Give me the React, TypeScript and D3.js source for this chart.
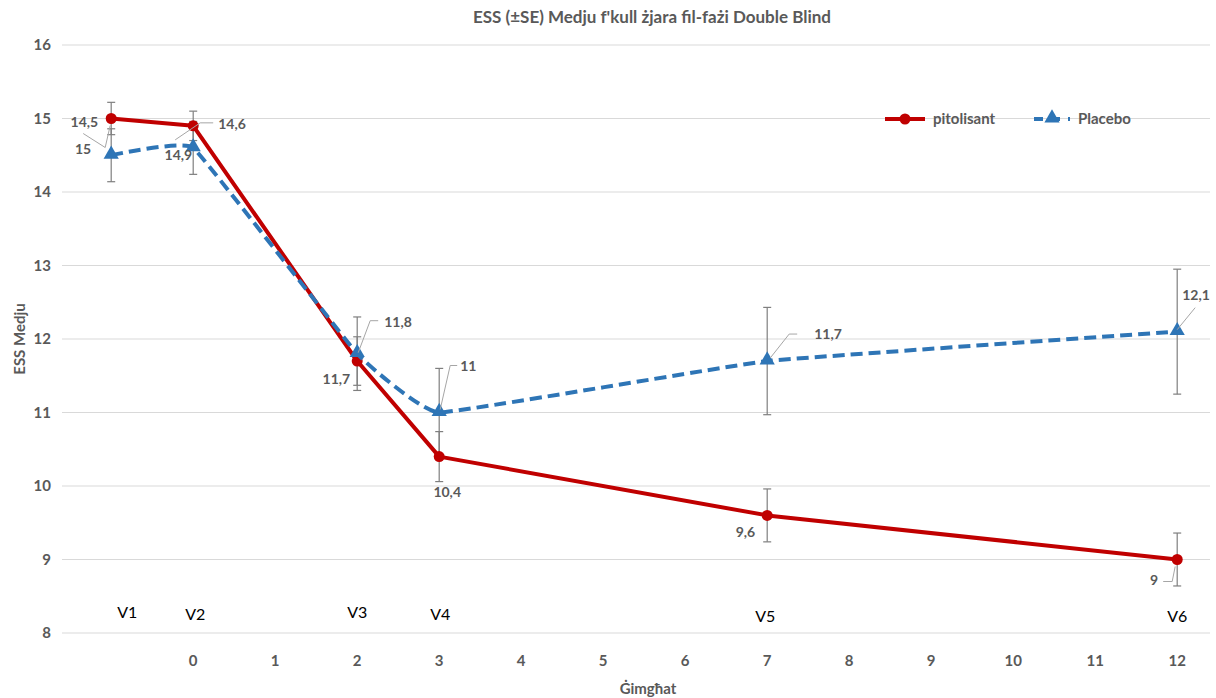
import React from "react";
import * as d3 from "d3";

const weeks = [-1, 0, 2, 3, 7, 12];
const visits = ["V1", "V2", "V3", "V4", "V5", "V6"];
const pitolisant = [15.0, 14.9, 11.7, 10.4, 9.6, 9.0];
const pitolisantSE = [0.22, 0.2, 0.33, 0.34, 0.36, 0.36];
const placebo = [14.5, 14.6, 11.8, 11.0, 11.7, 12.1];
const placeboSE = [0.36, 0.36, 0.5, 0.6, 0.73, 0.85];
const xTicks = [0, 1, 2, 3, 4, 5, 6, 7, 8, 9, 10, 11, 12];
const yTicks = [8, 9, 10, 11, 12, 13, 14, 15, 16];

// data label text, which series it hangs from, and its offset from the point
const dataLabels = [
  { i: 0, s: "red", text: "14,5", dx: -13, dy: 4, anchor: "end", leader: [[-28, 15], [-6, 29], [-1, 7]] },
  { i: 0, s: "blue", text: "15", dx: -20, dy: -6, anchor: "end", leader: null },
  { i: 1, s: "red", text: "14,6", dx: 25, dy: -2, anchor: "start", leader: [[20, -3], [7, -3], [-18, 14]] },
  { i: 1, s: "blue", text: "14,9", dx: -1, dy: 7, anchor: "end", leader: null },
  { i: 2, s: "blue", text: "11,8", dx: 27, dy: -32, anchor: "start", leader: [[21, -33], [13, -33], [1, -1]] },
  { i: 2, s: "red", text: "11,7", dx: -7, dy: 18, anchor: "end", leader: null },
  { i: 3, s: "blue", text: "11", dx: 21, dy: -46, anchor: "start", leader: [[18, -47], [11, -47], [1, -3]] },
  { i: 3, s: "red", text: "10,4", dx: 8, dy: 35, anchor: "middle", leader: null },
  { i: 4, s: "blue", text: "11,7", dx: 47, dy: -27, anchor: "start", leader: [[30, -27], [22, -27], [3, -3]] },
  { i: 4, s: "red", text: "9,6", dx: -12, dy: 17, anchor: "end", leader: null },
  { i: 5, s: "blue", text: "12,1", dx: 5, dy: -37, anchor: "start", leader: [[18, -24], [0, -2]] },
  { i: 5, s: "red", text: "9", dx: -19, dy: 21, anchor: "end", leader: [[-14, 22], [-5, 22], [-2, 7]] },
];
const visitDy = [-15, -13, -15, -13, -11, -11];
const visitDx = [16, 2, 0, 1, -2, 0];

const RED = "#C00000";
const BLUE = "#2E75B6";
const GRAY = "#595959";
const FONT = "Lato, 'Open Sans', sans-serif";

const App: React.FC = () => {
  const width = 1216;
  const height = 698;

  const x = d3.scaleLinear().domain([-1.6, 12.4]).range([62, 1210]);
  const y = d3.scaleLinear().domain([8, 16]).range([633, 45]);

  const redLine = d3
    .line<number>()
    .x((_, i) => x(weeks[i]))
    .y((d) => y(d));
  const blueLine = d3
    .line<number>()
    .x((_, i) => x(weeks[i]))
    .y((d) => y(d))
    .curve(d3.curveCardinal.tension(0.75));

  const triangle = d3.symbol().type(d3.symbolTriangle).size(100);

  const errorBar = (xi: number, v: number, se: number, key: string) => {
    const px = x(xi);
    return (
      <g key={key} stroke="#7f7f7f" strokeWidth={1.2}>
        <line x1={px} x2={px} y1={y(v + se)} y2={y(v - se)} />
        <line x1={px - 4} x2={px + 4} y1={y(v + se)} y2={y(v + se)} />
        <line x1={px - 4} x2={px + 4} y1={y(v - se)} y2={y(v - se)} />
      </g>
    );
  };

  return (
    <svg
      width={width}
      height={height}
      style={{ position: "absolute", left: 0, top: 0, background: "#fff" }}
      fontFamily={FONT}
    >
      {/* title */}
      <text x={652} y={23} textAnchor="middle" fontSize={17} fontWeight="bold" fill={GRAY}>
        ESS (±SE) Medju f'kull żjara fil-fażi Double Blind
      </text>

      {/* gridlines + y ticks */}
      {yTicks.map((t) => (
        <g key={"y" + t}>
          <line x1={62} x2={1210} y1={y(t)} y2={y(t)} stroke="#d9d9d9" strokeWidth={1} />
          <text x={51} y={y(t)} dy="0.35em" textAnchor="end" fontSize={15} fontWeight="bold" fill={GRAY}>
            {t}
          </text>
        </g>
      ))}

      {/* x ticks */}
      {xTicks.map((t) => (
        <text key={"x" + t} x={x(t)} y={661} dy="0.35em" textAnchor="middle" fontSize={15} fontWeight="bold" fill={GRAY}>
          {t}
        </text>
      ))}

      {/* axis titles */}
      <text x={648} y={689} dy="0.35em" textAnchor="middle" fontSize={15} fontWeight="bold" fill={GRAY}>
        Ġimgħat
      </text>
      <text
        transform={`translate(20,${y(12)}) rotate(-90)`}
        textAnchor="middle"
        dy="0.35em"
        fontSize={15}
        fontWeight="bold"
        fill={GRAY}
      >
        ESS Medju
      </text>

      {/* visit labels */}
      {visits.map((v, i) => (
        <text key={v} x={x(weeks[i]) + visitDx[i]} y={y(8) + visitDy[i]} textAnchor="middle" fontSize={16} fill="#000">
          {v}
        </text>
      ))}

      {/* error bars */}
      {placebo.map((v, i) => errorBar(weeks[i], v, placeboSE[i], "eb" + i))}
      {pitolisant.map((v, i) => errorBar(weeks[i], v, pitolisantSE[i], "er" + i))}

      {/* lines */}
      <path d={redLine(pitolisant) || ""} fill="none" stroke={RED} strokeWidth={4} strokeLinejoin="round" />
      {pitolisant.map((v, i) => (
        <circle key={"rc" + i} cx={x(weeks[i])} cy={y(v)} r={5.5} fill={RED} />
      ))}
      <path d={blueLine(placebo) || ""} fill="none" stroke={BLUE} strokeWidth={4} strokeDasharray="12,6" />
      {placebo.map((v, i) => (
        <path
          key={"bt" + i}
          d={triangle() || ""}
          transform={`translate(${x(weeks[i])},${y(v) - 1})`}
          fill={BLUE}
        />
      ))}

      {/* data labels */}
      {dataLabels.map((l, k) => {
        const px = x(weeks[l.i]);
        const py = y(l.s === "red" ? pitolisant[l.i] : placebo[l.i]);
        return (
          <g key={"dl" + k}>
            {l.leader && (
              <polyline
                points={l.leader.map((p) => `${px + p[0]},${py + p[1]}`).join(" ")}
                fill="none"
                stroke="#a6a6a6"
                strokeWidth={1}
              />
            )}
            <text
              x={px + l.dx}
              y={py + l.dy}
              dy="0.35em"
              textAnchor={l.anchor}
              fontSize={14}
              fontWeight="bold"
              fill={GRAY}
            >
              {l.text}
            </text>
          </g>
        );
      })}

      {/* legend */}
      <g>
        <line x1={885} x2={925} y1={119} y2={119} stroke={RED} strokeWidth={4} />
        <circle cx={905} cy={119} r={5.5} fill={RED} />
        <text x={933} y={119} dy="0.35em" fontSize={15} fontWeight="bold" fill={GRAY}>
          pitolisant
        </text>
        <line x1={1034} x2={1070} y1={119} y2={119} stroke={BLUE} strokeWidth={4} strokeDasharray="9,8" />
        <path d={triangle() || ""} transform="translate(1052,118)" fill={BLUE} />
        <text x={1078} y={119} dy="0.35em" fontSize={15} fontWeight="bold" fill={GRAY}>
          Placebo
        </text>
      </g>
    </svg>
  );
};

export default App;
